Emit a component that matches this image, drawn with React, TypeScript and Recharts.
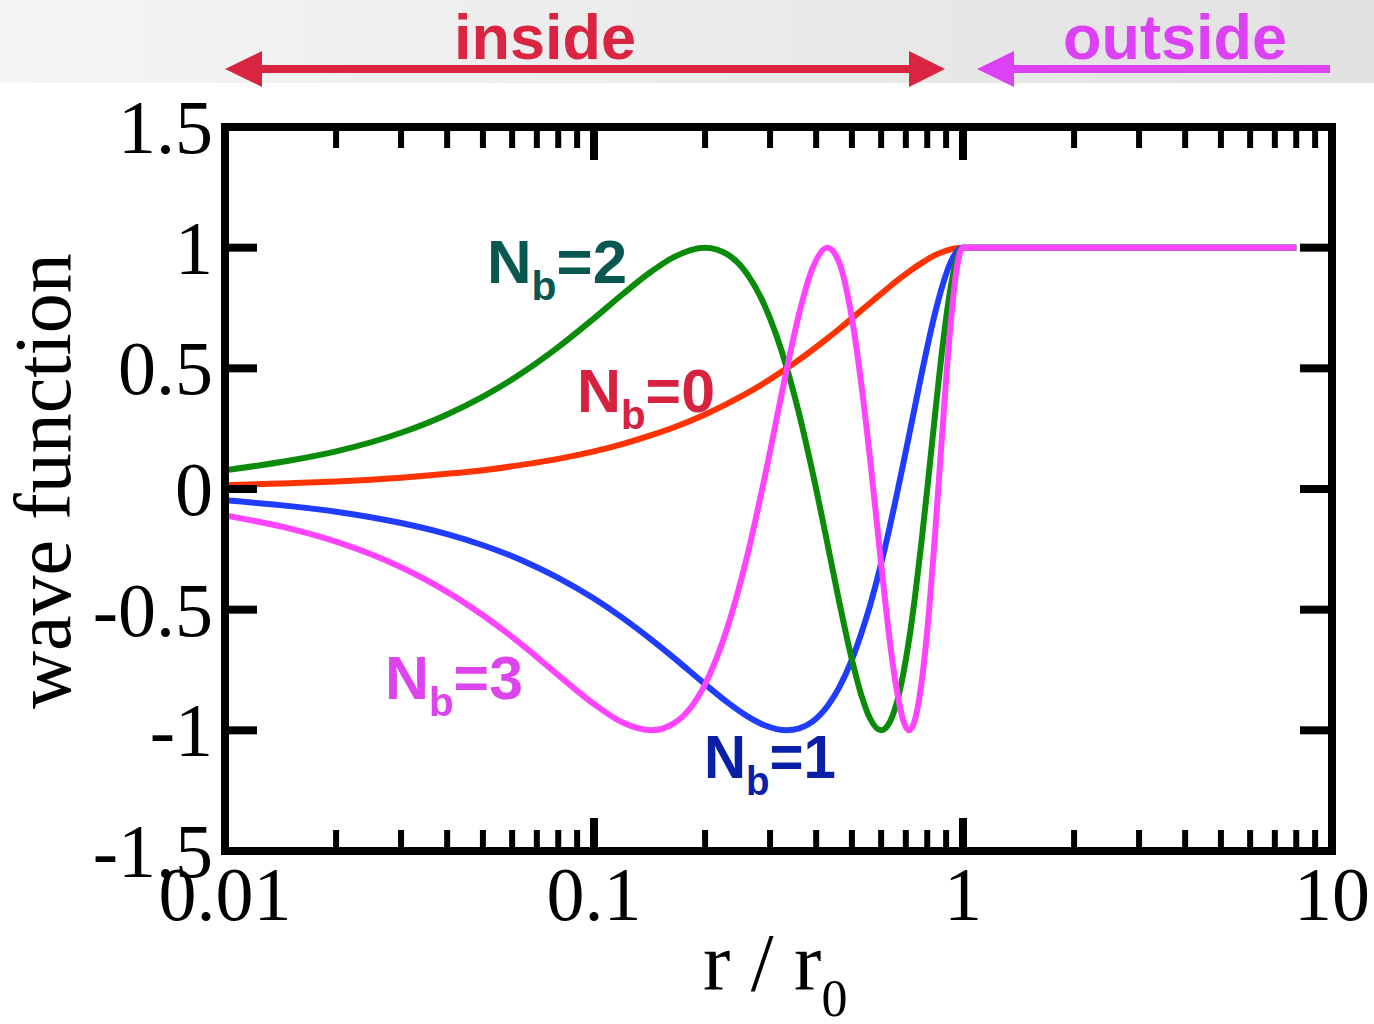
import React from 'react';
import { LineChart, Line, XAxis, YAxis } from 'recharts';

// r / r0 sample points (log axis)
const radius = [0.01, 0.015, 0.02, 0.03, 0.04, 0.05, 0.065, 0.08, 0.1, 0.12, 0.143, 0.165, 0.2, 0.23, 0.26, 0.29, 0.333, 0.36, 0.39, 0.429, 0.46, 0.5, 0.53, 0.56, 0.6, 0.63, 0.66, 0.69, 0.714, 0.74, 0.77, 0.8, 0.84, 0.88, 0.92, 0.96, 1, 2, 4, 8];

// wave function, one list per Nb
const nb0 = [0.016, 0.024, 0.031, 0.047, 0.063, 0.078, 0.102, 0.125, 0.156, 0.187, 0.223, 0.256, 0.309, 0.354, 0.397, 0.44, 0.5, 0.536, 0.575, 0.624, 0.661, 0.707, 0.74, 0.771, 0.809, 0.836, 0.861, 0.884, 0.901, 0.918, 0.935, 0.951, 0.969, 0.982, 0.992, 0.998, 1, 1, 1, 1];
const nb1 = [-0.047, -0.071, -0.094, -0.141, -0.187, -0.233, -0.301, -0.368, -0.454, -0.536, -0.624, -0.701, -0.809, -0.884, -0.941, -0.979, -1.0, -0.992, -0.965, -0.9, -0.827, -0.707, -0.599, -0.482, -0.309, -0.172, -0.031, 0.11, 0.221, 0.338, 0.468, 0.588, 0.729, 0.844, 0.93, 0.982, 1, 1, 1, 1];
const nb2 = [0.078, 0.118, 0.156, 0.233, 0.309, 0.383, 0.489, 0.588, 0.707, 0.809, 0.901, 0.962, 1.0, 0.972, 0.891, 0.76, 0.502, 0.309, 0.078, -0.225, -0.454, -0.707, -0.853, -0.951, -1.0, -0.972, -0.891, -0.76, -0.626, -0.454, -0.233, 0.0, 0.309, 0.588, 0.809, 0.951, 1, 1, 1, 1];
const nb3 = [-0.11, -0.164, -0.218, -0.324, -0.426, -0.523, -0.655, -0.771, -0.891, -0.969, -1.0, -0.97, -0.809, -0.574, -0.279, 0.047, 0.496, 0.729, 0.91, 1.0, 0.945, 0.707, 0.437, 0.125, -0.309, -0.602, -0.824, -0.963, -1.0, -0.96, -0.816, -0.588, -0.187, 0.249, 0.637, 0.905, 1, 1, 1, 1];

const xMajor = [0.01, 0.1, 1, 10];
const xMajorLabels = ['0.01', '0.1', '1', '10'];
const xTicks = [0.01, 0.02, 0.03, 0.04, 0.05, 0.06, 0.07, 0.08, 0.09, 0.1, 0.2, 0.3, 0.4, 0.5, 0.6, 0.7, 0.8, 0.9, 1, 2, 3, 4, 5, 6, 7, 8, 9, 10];
const yTicks = [-1.5, -1, -0.5, 0, 0.5, 1, 1.5];
const yTickLabels = ['-1.5', '-1', '-0.5', '0', '0.5', '1', '1.5'];

const data = radius.map((r, i) => ({ r, nb0: nb0[i], nb1: nb1[i], nb2: nb2[i], nb3: nb3[i] }));

const serif = '"Liberation Serif", "Times New Roman", serif';
const sans = '"Liberation Sans", Arial, sans-serif';
const axisStyle = { stroke: '#000', strokeWidth: 8, strokeLinecap: 'square' as const };

const majorIndex = (v: number) => xMajor.findIndex((m) => Math.abs(m - v) < 1e-9);

const BottomTick = (props: any) => {
  const { x, y, payload } = props;
  const idx = majorIndex(payload.value);
  return (
    <g>
      <line x1={x} y1={y} x2={x} y2={y - (idx >= 0 ? 33 : 21)} stroke="#000" strokeWidth={idx >= 0 ? 8 : 6} />
      {idx >= 0 && (
        <text x={x} y={y + 69} textAnchor="middle" fontFamily={serif} fontSize={76} fill="#000">
          {xMajorLabels[idx]}
        </text>
      )}
    </g>
  );
};

const TopTick = (props: any) => {
  const { x, y, payload } = props;
  const idx = majorIndex(payload.value);
  return <line x1={x} y1={y} x2={x} y2={y + (idx >= 0 ? 33 : 21)} stroke="#000" strokeWidth={idx >= 0 ? 8 : 6} />;
};

const LeftTick = (props: any) => {
  const { x, y, payload } = props;
  const idx = yTicks.indexOf(payload.value);
  return (
    <g>
      <line x1={x} y1={y} x2={x + 32} y2={y} stroke="#000" strokeWidth={8} />
      <text x={x - 12} y={y} dy={26} textAnchor="end" fontFamily={serif} fontSize={76} fill="#000">
        {yTickLabels[idx]}
      </text>
    </g>
  );
};

const RightTick = (props: any) => {
  const { x, y } = props;
  return <line x1={x} y1={y} x2={x - 32} y2={y} stroke="#000" strokeWidth={8} />;
};

const NbLabel = ({ x, y, n, color, width }: { x: number; y: number; n: string; color: string; width: number }) => (
  <text x={x} y={y} fontFamily={sans} fontWeight="bold" fontSize={62} fill={color} textLength={width} lengthAdjust="spacingAndGlyphs">
    N
    <tspan fontSize={41} dy={17}>b</tspan>
    <tspan dy={-17}>={n}</tspan>
  </text>
);

export default function App() {
  return (
    <div style={{ position: 'absolute', left: 0, top: 0, width: 1374, height: 1024, background: '#fff', overflow: 'hidden' }}>
      <div
        style={{
          position: 'absolute',
          left: 0,
          top: 0,
          width: 1374,
          height: 83,
          background: 'linear-gradient(to right, #f5f5f5, #e1e1e1)',
        }}
      />
      <div style={{ position: 'absolute', left: 0, top: 0 }}>
        <LineChart width={1374} height={1024} data={data} margin={{ top: 0, right: 0, bottom: 0, left: 0 }}>
          <XAxis
            xAxisId="b"
            dataKey="r"
            type="number"
            scale="log"
            domain={[0.01, 10]}
            allowDataOverflow
            ticks={xTicks}
            interval={0}
            height={173}
            tickSize={0}
            tickMargin={0}
            tickLine={false}
            axisLine={axisStyle}
            tick={BottomTick}
          />
          <XAxis
            xAxisId="t"
            orientation="top"
            dataKey="r"
            type="number"
            scale="log"
            domain={[0.01, 10]}
            allowDataOverflow
            ticks={xTicks}
            interval={0}
            height={127}
            tickSize={0}
            tickMargin={0}
            tickLine={false}
            axisLine={axisStyle}
            tick={TopTick}
          />
          <YAxis
            yAxisId="l"
            type="number"
            domain={[-1.5, 1.5]}
            allowDataOverflow
            ticks={yTicks}
            interval={0}
            width={225}
            tickSize={0}
            tickMargin={0}
            tickLine={false}
            axisLine={axisStyle}
            tick={LeftTick}
          />
          <YAxis
            yAxisId="r"
            orientation="right"
            type="number"
            domain={[-1.5, 1.5]}
            allowDataOverflow
            ticks={yTicks}
            interval={0}
            width={42}
            tickSize={0}
            tickMargin={0}
            tickLine={false}
            axisLine={axisStyle}
            tick={RightTick}
          />
          <Line xAxisId="b" yAxisId="l" type="monotone" dataKey="nb0" stroke="#ff3300" strokeWidth={6} dot={false} isAnimationActive={false} />
          <Line xAxisId="b" yAxisId="l" type="monotone" dataKey="nb1" stroke="#1f3cff" strokeWidth={6} dot={false} isAnimationActive={false} />
          <Line xAxisId="b" yAxisId="l" type="monotone" dataKey="nb2" stroke="#0a8c0a" strokeWidth={6} dot={false} isAnimationActive={false} />
          <Line xAxisId="b" yAxisId="l" type="monotone" dataKey="nb3" stroke="#ff44ff" strokeWidth={6} dot={false} isAnimationActive={false} />
        </LineChart>
      </div>
      <svg width={1374} height={1024} style={{ position: 'absolute', left: 0, top: 0, pointerEvents: 'none' }}>
        {/* inside / outside banner */}
        <text x={545} y={59} textAnchor="middle" fontFamily={sans} fontWeight="bold" fontSize={63} fill="#d92442">inside</text>
        <text x={1175} y={59} textAnchor="middle" fontFamily={sans} fontWeight="bold" fontSize={63} fill="#dc41f5">outside</text>
        <line x1={255} y1={69} x2={915} y2={69} stroke="#d92442" strokeWidth={8} />
        <polygon points="225,69 262,51 262,87" fill="#d92442" />
        <polygon points="945,69 909,51 909,87" fill="#d92442" />
        <line x1={1005} y1={69} x2={1330} y2={69} stroke="#dc41f5" strokeWidth={8} />
        <polygon points="977,69 1014,51 1014,87" fill="#dc41f5" />

        <NbLabel x={487} y={283} n="2" color="#0a5650" width={140} />
        <NbLabel x={577} y={412} n="0" color="#d6213f" width={138} />
        <NbLabel x={385} y={699} n="3" color="#dd44ee" width={138} />
        <NbLabel x={704} y={778} n="1" color="#0a1fa8" width={132} />

        <text x={70} y={481} transform="rotate(-90 70 481)" textAnchor="middle" fontFamily={serif} fontSize={80} fill="#000">
          wave function
        </text>
        <text x={703} y={990} fontFamily={serif} fontSize={82} fill="#000">
          r / r<tspan fontSize={52} dy={26}>0</tspan>
        </text>
      </svg>
    </div>
  );
}
